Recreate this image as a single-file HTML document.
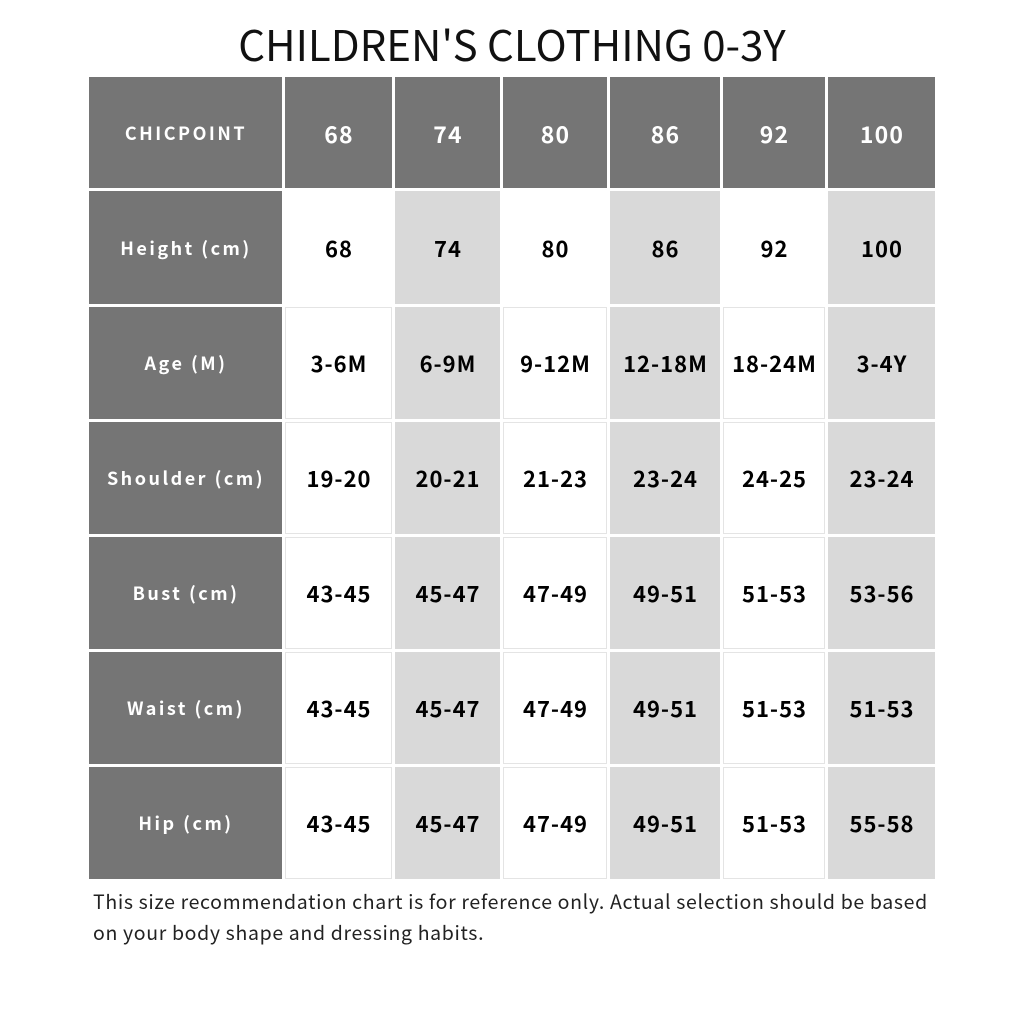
<!DOCTYPE html>
<html><head><meta charset="utf-8"><style>
body{margin:0;width:1024px;height:1024px;background:#fff;position:relative;font-family:"Noto Sans CJK SC","Liberation Sans",sans-serif;overflow:hidden}
.t{position:absolute;top:14px;left:0;width:1024px;text-align:center;font-size:42px;line-height:60px;color:#111}
.c{position:absolute;display:flex;align-items:center;justify-content:center;font-weight:bold;font-size:22px;letter-spacing:1px;color:#000;box-sizing:border-box;padding-left:1px}
.d{background:#757575;color:#fff;font-size:18px;letter-spacing:2.5px}
.h{background:#757575;color:#fff;font-size:23px;letter-spacing:1.2px}
.g{background:#d9d9d9}
.w{background:#fff;border:1px solid #e4e4e4}
.wn{background:#fff}
.n{position:absolute;left:93px;top:885px;font-size:19.5px;line-height:31px;color:#222;white-space:nowrap;letter-spacing:0.65px}
</style></head><body>
<div class="t">CHILDREN'S CLOTHING 0-3Y</div>
<div id="tb"></div>
<div class="n">This size recommendation chart is for reference only. Actual selection should be based<br>on your body shape and dressing habits.</div>
<script>
var cx=[[89,282],[285,392],[395,500],[503,607],[610,720],[723,825],[828,935]];
var ry=[[77,188],[191,304],[307,419],[422,534],[537,649],[652,764],[767,879]];
var data=[["CHICPOINT","68","74","80","86","92","100"],
["Height (cm)","68","74","80","86","92","100"],
["Age (M)","3-6M","6-9M","9-12M","12-18M","18-24M","3-4Y"],
["Shoulder (cm)","19-20","20-21","21-23","23-24","24-25","23-24"],
["Bust (cm)","43-45","45-47","47-49","49-51","51-53","53-56"],
["Waist (cm)","43-45","45-47","47-49","49-51","51-53","51-53"],
["Hip (cm)","43-45","45-47","47-49","49-51","51-53","55-58"]];
var h="";
for(var r=0;r<7;r++)for(var c=0;c<7;c++){
var cls=c==0?"d":r==0?"h":(c%2==0?"g":(r==1?"wn":"w"));
var x=cx[c],y=ry[r];
h+='<div class="c '+cls+'" style="left:'+x[0]+'px;top:'+y[0]+'px;width:'+(x[1]-x[0])+'px;height:'+(y[1]-y[0])+'px">'+data[r][c]+'</div>';}
document.getElementById("tb").innerHTML=h;
</script>
</body></html>
